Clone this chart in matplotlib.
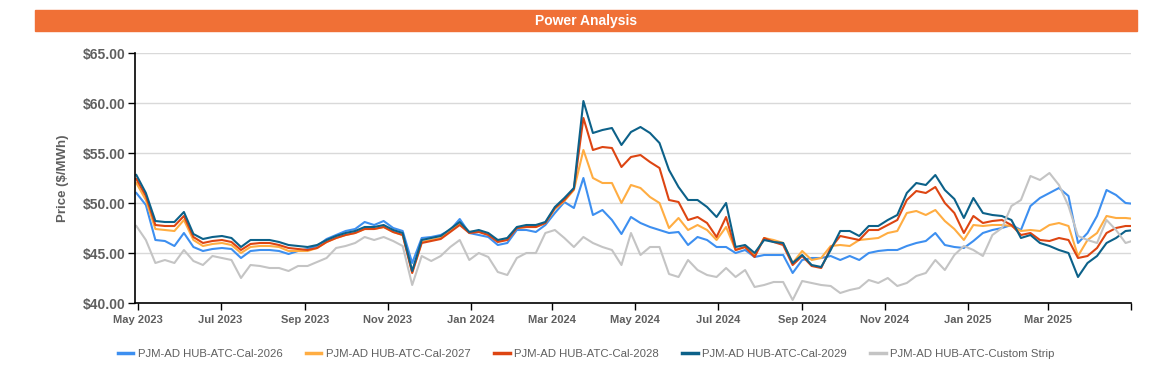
import numpy as np
import pandas as pd
import matplotlib
matplotlib.use("Agg")
import matplotlib.pyplot as plt
import matplotlib.dates as mdates
from matplotlib.patches import Rectangle

# weekly settles
start = "2023-04-30"

cal_2026 = [51.0, 49.8, 46.3, 46.2, 45.7, 47.0, 45.6, 45.2, 45.4, 45.5,
            45.4, 44.5, 45.2, 45.3, 45.3, 45.2, 44.9, 45.2, 45.4, 45.7,
            46.4, 46.8, 47.2, 47.4, 48.1, 47.8, 48.2, 47.5, 47.2, 44.0,
            46.5, 46.6, 46.8, 47.3, 48.4, 47.0, 46.8, 46.6, 45.8, 46.0,
            47.3, 47.3, 47.1, 47.8, 49.0, 50.1, 49.5, 52.5, 48.8, 49.3,
            48.3, 46.9, 48.6, 48.0, 47.6, 47.3, 47.0, 47.1, 45.8, 46.6,
            46.3, 45.6, 45.6, 45.0, 45.3, 44.6, 44.8, 44.8, 44.8, 43.0,
            44.3, 44.5, 44.5, 44.7, 44.3, 44.7, 44.3, 45.0, 45.2, 45.3,
            45.3, 45.7, 46.0, 46.2, 47.0, 45.8, 45.6, 45.5, 46.2, 47.0,
            47.3, 47.5, 47.8, 47.3, 49.7, 50.5, 51.0, 51.5, 50.7, 46.0,
            47.0, 48.7, 51.3, 50.8, 50.0, 49.9]

cal_2027 = [52.0, 50.3, 47.4, 47.3, 47.2, 48.3, 46.3, 45.7, 45.9, 46.0,
            45.8, 45.0, 45.6, 45.7, 45.7, 45.6, 45.2, 45.2, 45.2, 45.5,
            46.1, 46.5, 46.8, 47.0, 47.4, 47.4, 47.6, 47.1, 46.8, 43.1,
            46.1, 46.3, 46.5, 47.2, 48.0, 47.1, 47.2, 46.9, 46.2, 46.4,
            47.5, 47.6, 47.6, 48.0, 49.4, 50.2, 51.3, 55.3, 52.5, 52.0,
            52.0, 50.0, 51.8, 51.5, 50.6, 50.0, 47.5, 48.5, 47.3, 47.8,
            47.3, 46.3, 47.6, 45.3, 45.6, 44.8, 46.5, 46.3, 46.0, 44.0,
            45.2, 44.3, 44.5, 45.7, 45.8, 45.7, 46.3, 46.4, 46.5, 47.0,
            47.2, 49.0, 49.2, 48.8, 49.3, 48.2, 47.4, 46.3, 47.8, 47.7,
            47.8, 47.8, 47.7, 47.2, 47.3, 47.2, 47.8, 48.0, 47.7, 44.7,
            46.3, 47.0, 48.7, 48.5, 48.5, 48.4]

cal_2028 = [52.4, 50.7, 47.8, 47.7, 47.7, 48.7, 46.6, 46.0, 46.2, 46.3,
            46.1, 45.3, 45.9, 46.0, 46.0, 45.8, 45.5, 45.4, 45.3, 45.5,
            46.1, 46.5, 46.8, 47.0, 47.4, 47.4, 47.6, 47.1, 46.8, 43.0,
            46.0, 46.2, 46.4, 47.1, 47.8, 47.0, 47.1, 46.8, 46.1, 46.3,
            47.5, 47.6, 47.6, 48.0, 49.5, 50.3, 51.4, 58.5, 55.3, 55.6,
            55.5, 53.6, 54.6, 54.8, 54.1, 53.5, 50.3, 50.1, 48.3, 48.6,
            48.0, 46.6, 48.6, 45.3, 45.6, 44.6, 46.5, 46.1, 45.8, 43.8,
            44.7, 43.7, 43.5, 45.5, 46.7, 46.5, 46.3, 47.3, 47.3, 47.8,
            48.3, 50.3, 51.2, 51.0, 51.6, 50.0, 49.0, 47.0, 48.7, 48.0,
            48.2, 48.3, 47.8, 46.8, 47.0, 46.3, 46.2, 46.5, 46.3, 44.5,
            44.7, 45.5, 47.0, 47.5, 47.7, 47.7]

cal_2029 = [52.8, 51.0, 48.2, 48.1, 48.1, 49.1, 46.9, 46.4, 46.6, 46.7,
            46.5, 45.6, 46.3, 46.3, 46.3, 46.1, 45.8, 45.7, 45.6, 45.8,
            46.3, 46.7, 47.0, 47.2, 47.6, 47.6, 47.8, 47.3, 47.0, 43.2,
            46.3, 46.5, 46.7, 47.4, 48.1, 47.1, 47.3, 47.0, 46.3, 46.5,
            47.6, 47.8, 47.8, 48.1, 49.6, 50.5, 51.5, 60.2, 57.0, 57.3,
            57.5, 55.8, 57.1, 57.6, 57.0, 56.0, 53.3, 51.6, 50.3, 50.3,
            49.6, 48.6, 50.0, 45.6, 45.8, 45.0, 46.3, 46.1, 46.0, 44.0,
            44.8, 43.8, 43.6, 45.3, 47.2, 47.2, 46.7, 47.7, 47.7, 48.3,
            48.8, 51.0, 52.0, 51.8, 52.8, 51.3, 50.4, 48.5, 50.5, 49.0,
            48.8, 48.7, 48.3, 46.5, 46.8, 46.0, 45.7, 45.3, 45.0, 42.6,
            44.0, 44.7, 46.0, 46.5, 47.2, 47.3]

custom_strip = [47.7, 46.3, 44.0, 44.3, 44.0, 45.3, 44.2, 43.8, 44.7, 44.5,
                44.3, 42.5, 43.8, 43.7, 43.5, 43.5, 43.2, 43.7, 43.7, 44.1,
                44.5, 45.5, 45.7, 46.0, 46.6, 46.3, 46.6, 46.2, 45.7, 41.8,
                44.7, 44.2, 44.7, 45.6, 46.3, 44.3, 45.0, 44.6, 43.1, 42.8,
                44.5, 45.0, 45.0, 47.0, 47.3, 46.5, 45.6, 46.6, 46.0, 45.6,
                45.3, 43.8, 47.0, 44.8, 45.6, 45.6, 42.9, 42.6, 44.3, 43.3,
                42.8, 42.6, 43.5, 42.6, 43.3, 41.6, 41.8, 42.1, 42.1, 40.3,
                42.2, 42.0, 41.8, 41.7, 41.0, 41.3, 41.5, 42.3, 42.0, 42.5,
                41.7, 42.0, 42.7, 43.0, 44.3, 43.3, 44.8, 45.7, 45.3, 44.7,
                46.8, 47.5, 49.7, 50.3, 52.7, 52.3, 53.0, 51.8, 49.7, 46.7,
                46.3, 46.0, 48.3, 47.3, 46.0, 46.3]

series_names = ["PJM-AD HUB-ATC-Cal-2026", "PJM-AD HUB-ATC-Cal-2027",
                "PJM-AD HUB-ATC-Cal-2028", "PJM-AD HUB-ATC-Cal-2029",
                "PJM-AD HUB-ATC-Custom Strip"]
colors = ["#3d8ff0", "#ffad42", "#dd4512", "#0c6189", "#c4c4c4"]

yticks = [40, 45, 50, 55, 60, 65]
ytick_labels = ["$40.00", "$45.00", "$50.00", "$55.00", "$60.00", "$65.00"]

dates = pd.date_range(start, periods=len(cal_2029), freq="7D")
all_series = [cal_2026, cal_2027, cal_2028, cal_2029, custom_strip]

fig = plt.figure(figsize=(11.73, 3.78), dpi=100)
fig.patch.set_facecolor("white")

# orange header bar
fig.patches.append(Rectangle((35 / 1173, 1 - 31 / 378), 1102 / 1173, 21 / 378,
                             transform=fig.transFigure, color="#f07036", zorder=0))
fig.text(586 / 1173, 1 - 20.5 / 378, "Power Analysis", color="white",
         fontsize=10, fontweight="bold", ha="center", va="center",
         family="Liberation Sans")

ax = fig.add_axes([135 / 1173, 1 - 303 / 378, 996 / 1173, 250 / 378])

for name, vals, c in zip(series_names, all_series, colors):
    ax.plot(dates, vals, color=c, lw=1.5, label=name)

ax.set_ylim(40, 65)
ax.set_yticks(yticks)
ax.set_yticklabels(ytick_labels)
ax.set_xlim(pd.Timestamp("2023-04-29"), pd.Timestamp("2025-05-01"))
xt = pd.date_range("2023-05-01", "2025-05-01", freq="2MS")
ax.set_xticks(xt)
ax.set_xticklabels([d.strftime("%b %Y") if i < len(xt) - 1 else "" for i, d in enumerate(xt)])

ax.grid(axis="y", color="#d9d9d9", lw=1)
ax.set_axisbelow(True)
for s in ["top", "right"]:
    ax.spines[s].set_visible(False)
for s in ["left", "bottom"]:
    ax.spines[s].set_color("black")
    ax.spines[s].set_linewidth(1.2)

ax.tick_params(axis="both", direction="out", length=5, color="black", width=1)
ax.tick_params(axis="y", pad=2)
for lab in ax.get_yticklabels():
    lab.set_fontsize(10)
    lab.set_fontweight("bold")
    lab.set_color("#5f5f5f")
    lab.set_family("Liberation Sans")
for lab in ax.get_xticklabels():
    lab.set_fontsize(8)
    lab.set_fontweight("bold")
    lab.set_color("#5f5f5f")
    lab.set_family("Liberation Sans")

ax.set_ylabel("Price ($/MWh)", fontsize=9.5, fontweight="bold", color="#5f5f5f",
              family="Liberation Sans", labelpad=10)

leg = fig.legend(loc="center", bbox_to_anchor=(586 / 1173, 1 - 354 / 378), ncol=5,
                 frameon=False, handlelength=1.4, columnspacing=2.0, handletextpad=0.4,
                 prop={"family": "Liberation Sans", "size": 8.2})
for t in leg.get_texts():
    t.set_color("#5f5f5f")
for h in leg.get_lines():
    h.set_linewidth(2.5)

fig.savefig("out.png", dpi=100)
